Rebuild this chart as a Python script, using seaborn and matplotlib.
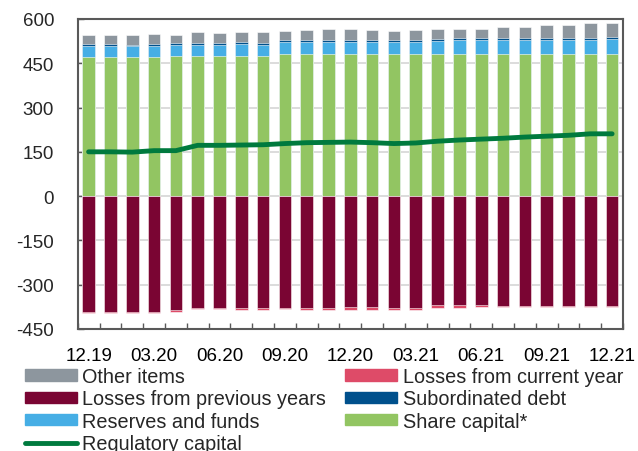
import numpy as np
import pandas as pd
import matplotlib.pyplot as plt
from matplotlib.lines import Line2D
from matplotlib.patches import Patch
from matplotlib.ticker import FixedLocator
import seaborn as sns

# Monthly observations, 12.19 - 12.21
months = ['12.19', '01.20', '02.20', '03.20', '04.20', '05.20', '06.20', '07.20', '08.20',
          '09.20', '10.20', '11.20', '12.20', '01.21', '02.21', '03.21', '04.21', '05.21',
          '06.21', '07.21', '08.21', '09.21', '10.21', '11.21', '12.21']

share_capital = [472, 472, 472, 472, 474, 474, 474, 474, 474, 481, 481, 481, 481,
                 481, 481, 481, 481, 482, 482, 482, 482, 482, 482, 482, 482]
reserves = [36, 36, 36, 36, 39, 39, 39, 40, 39, 42, 42, 42, 42,
            41, 41, 41, 45, 47, 47, 47, 47, 47, 47, 47, 49]
sub_debt = [8, 8, 4, 8, 6, 6, 6, 7, 6, 7, 6, 7, 7,
            6, 6, 6, 6, 6, 7, 6, 6, 6, 6, 6, 7]
other_items = [31, 29, 33, 34, 26, 36, 35, 34, 36, 30, 35, 35, 35,
               34, 31, 34, 33, 32, 31, 37, 39, 43, 46, 53, 47]
losses_prev = [-391, -391, -391, -391, -386, -379, -379, -378, -378, -378, -378, -378, -377,
               -377, -378, -378, -369, -369, -369, -372, -372, -372, -372, -372, -372]
losses_curr = [-5, -4, -4, -4, -5, -4, -4, -7, -7, -5, -7, -7, -8,
               -8, -9, -8, -9, -9, -6, -2, -2, -2, -2, -2, -2]
reg_capital = [150, 150, 149, 154, 154, 172, 172, 173, 174, 178, 181, 182, 183,
               181, 178, 180, 186, 190, 193, 196, 200, 203, 206, 211, 211]

c_other = '#8D969E'
c_curr = '#DE4B68'
c_prev = '#7A0533'
c_sub = '#00508C'
c_res = '#46AEE5'
c_share = '#92C562'
c_reg = '#007A3E'

df = pd.DataFrame({'month': months, 'share': share_capital, 'res': reserves,
                   'sub': sub_debt, 'other': other_items,
                   'prev': losses_prev, 'curr': losses_curr, 'reg': reg_capital})
df['top_res'] = df['share'] + df['res']
df['top_sub'] = df['top_res'] + df['sub']
df['top_other'] = df['top_sub'] + df['other']
df['bot_curr'] = df['prev'] + df['curr']

sns.set_style('white')
plt.rcParams['font.family'] = ['Liberation Sans', 'DejaVu Sans']
plt.rcParams['axes.unicode_minus'] = False

fig = plt.figure(figsize=(6.38, 4.52), dpi=100)
ax = fig.add_axes([0.1218, 0.27, 0.8547, 0.6858])

ax.yaxis.grid(True, color='#D9D9D9', linewidth=1.3, zorder=0)
ax.set_axisbelow(True)

# stacked bars drawn as cumulative layers, largest first
layers = [('top_other', c_other), ('top_sub', c_sub), ('top_res', c_res), ('share', c_share),
          ('bot_curr', c_curr), ('prev', c_prev)]
for col, color in layers:
    sns.barplot(data=df, x='month', y=col, color=color, width=0.58, saturation=1, ax=ax,
                edgecolor='white', linewidth=0.4, zorder=2)

x = np.arange(len(months))
sns.lineplot(x=x, y=df['reg'].values, color=c_reg, linewidth=3.5, ax=ax, zorder=3)
for ln in ax.lines:
    ln.set_solid_capstyle('round')

ax.set_xlim(-0.5, len(months) - 0.5)
ax.set_ylim(-450, 600)
ax.set_yticks(np.arange(-450, 601, 150))
ax.set_xlabel('')
ax.set_ylabel('')

ax.set_xticks(x[::3])
ax.set_xticklabels(months[::3])
ax.xaxis.set_minor_locator(FixedLocator(np.arange(-0.5, len(months), 1.0)))
ax.tick_params(axis='x', which='major', length=0, pad=13, labelsize=13.5, colors='black')
ax.tick_params(axis='x', which='minor', direction='in', length=4, width=1, color='#595959', bottom=True)
ax.tick_params(axis='y', direction='in', length=4, width=1, color='#595959', left=True,
               pad=17, labelsize=13.5)

for s in ax.spines.values():
    s.set_color('#595959')
    s.set_linewidth(1.5)
    s.set_visible(True)

handles = [
    Patch(color=c_other, label='Other items'),
    Patch(color=c_prev, label='Losses from previous years'),
    Patch(color=c_res, label='Reserves and funds'),
    Line2D([0], [0], color=c_reg, linewidth=3.5, solid_capstyle='round', label='Regulatory capital'),
    Patch(color=c_curr, label='Losses from current year'),
    Patch(color=c_sub, label='Subordinated debt'),
    Patch(color=c_share, label='Share capital*'),
]
fig.legend(handles=handles, ncol=2, loc='upper left', bbox_to_anchor=(0.039, 0.186),
           frameon=False, fontsize=14.3, handlelength=2.6, handleheight=0.5,
           handletextpad=0.3, columnspacing=0.95, labelspacing=0.17, borderpad=0,
           borderaxespad=0)

fig.savefig('out.png', dpi=100)
